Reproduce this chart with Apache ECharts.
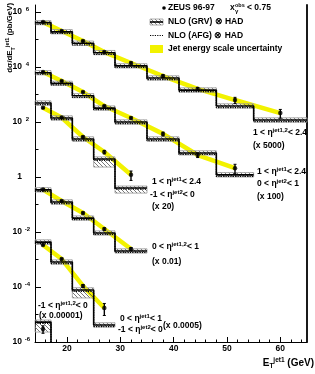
<!DOCTYPE html>
<html><head><meta charset="utf-8">
<script src="https://cdn.jsdelivr.net/npm/echarts@6/dist/echarts.min.js"></script>
<style>html,body{margin:0;padding:0;background:#fff}#c{width:315px;height:374px}</style>
</head><body><div id="c"></div>
<script>
// ---- data ----
const binEdges = [14, 17, 21, 25, 29, 35, 41, 48, 55, 65];
const binCenters = [15.5, 19, 23, 27, 32, 38, 44.5, 51.5, 60];
const xTickLabels = [20, 30, 40, 50, 60];
const xMinorTicks = [16, 18, 22, 24, 26, 28, 32, 34, 36, 38, 42, 44, 46, 48, 52, 54, 56, 58, 62, 64];
const yTickLabels = [1e-6, 1e-4, 1e-2, 1, 100, 1e4, 1e6];
const yTickOddDecades = [1e-5, 1e-3, 1e-1, 10, 1e3, 1e5];

// 1 < eta(jet1,2) < 2.4  (x 5000)
const s5000Data = [4.3e5, 2.05e5, 8.8e4, 3.5e4, 1.4e4, 4.7e3, 1.6e3, 630, 212];
const s5000Err  = [2e4, 1e4, 6e3, 2.5e3, 1.2e3, 500, 220, 160, 75];
const s5000Grv  = [4.1e5, 1.9e5, 7.3e4, 3.3e4, 1.1e4, 4.0e3, 1.45e3, 380, 118];
const s5000Afg  = [3.6e5, 1.67e5, 6.4e4, 2.9e4, 9.7e3, 3.5e3, 1.28e3, 335, 104];
const s5000Hi   = [4.9e5, 2.3e5, 8.8e4, 4.0e4, 1.32e4, 4.8e3, 1.75e3, 460, 142];
const s5000Lo   = [3.45e5, 1.6e5, 6.1e4, 2.8e4, 9.2e3, 3.35e3, 1.22e3, 320, 99];

// 1 < eta(jet1) < 2.4, 0 < eta(jet2) < 1  (x 100)
const s100Data = [6.6e3, 3.1e3, 1.23e3, 380, 140, 37, 6.3, 2.1];
const s100Err  = [300, 150, 70, 25, 12, 6, 1.2, 0.8];
const s100Grv  = [6.2e3, 2.55e3, 900, 320, 100, 24, 7.5, 1.2];
const s100Afg  = [5.5e3, 2.25e3, 790, 282, 88, 21, 6.6, 1.05];
const s100Hi   = [7.4e3, 3.05e3, 1.08e3, 385, 120, 29, 9.0, 1.45];
const s100Lo   = [5.2e3, 2.15e3, 760, 270, 84, 20, 6.3, 1.0];

// 1 < eta(jet1) < 2.4, -1 < eta(jet2) < 0  (x 20)
const s20Data = [330, 145, 28.5, 8.1, 1.2];
const s20Err  = [20, 8, 2.5, 1.2, 0.45];
const s20Grv  = [490, 140, 24, 4.5, 0.4];
const s20Afg  = [430, 123, 21, 4.0, 0.36];
const s20Hi   = [590, 168, 29, 5.4, 0.47];
const s20Lo   = [410, 118, 20, 2.3, 0.26];

// 0 < eta(jet1,2) < 1  (x 0.01)
const s001Data = [0.35, 0.134, 0.049, 0.0129, 0.0024];
const s001Err  = [0.02, 0.008, 0.004, 0.0012, 0.0003];
const s001Grv  = [0.34, 0.123, 0.032, 0.0092, 0.00204];
const s001Afg  = [0.30, 0.108, 0.028, 0.0081, 0.0018];
const s001Hi   = [0.41, 0.148, 0.0385, 0.011, 0.00245];
const s001Lo   = [0.285, 0.103, 0.027, 0.0077, 0.00171];

// 0 < eta(jet1) < 1, -1 < eta(jet2) < 0  (x 0.0005)
const s00005Data = [0.00337, 0.00104, 1.09e-4, 1.72e-5];
const s00005Err  = [2e-4, 7e-5, 1.3e-5, 8e-6];
const s00005Grv  = [0.0043, 8.1e-4, 7.8e-5, 4.15e-6];
const s00005Afg  = [0.0038, 7.1e-4, 6.9e-5, 3.65e-6];
const s00005Hi   = [0.0052, 9.7e-4, 9.4e-5, 5.0e-6];
const s00005Lo   = [0.0036, 6.8e-4, 4.0e-5, 3.5e-6];

// -1 < eta(jet1,2) < 0  (x 0.00001)
const s000001Data = [2.97e-6];
const s000001Err  = [0.9e-6];
const s000001Grv  = [5.3e-6, 4e-7];
const s000001Afg  = [4.7e-6, 3.5e-7];
const s000001Hi   = [6.3e-6];
const s000001Lo   = [2.3e-6];

// ---- rendering ----
const FONT = '"Liberation Sans", Arial, Helvetica, sans-serif';
const groups = [
  {d: s5000Data, e: s5000Err, g: s5000Grv, a: s5000Afg, hi: s5000Hi, lo: s5000Lo},
  {d: s100Data, e: s100Err, g: s100Grv, a: s100Afg, hi: s100Hi, lo: s100Lo},
  {d: s20Data, e: s20Err, g: s20Grv, a: s20Afg, hi: s20Hi, lo: s20Lo},
  {d: s001Data, e: s001Err, g: s001Grv, a: s001Afg, hi: s001Hi, lo: s001Lo},
  {d: s00005Data, e: s00005Err, g: s00005Grv, a: s00005Afg, hi: s00005Hi, lo: s00005Lo},
  {d: s000001Data, e: s000001Err, g: s000001Grv, a: s000001Afg, hi: s000001Hi, lo: s000001Lo}
];

function hatchCanvas() {
  const c = document.createElement('canvas');
  c.width = 4; c.height = 4;
  const x = c.getContext('2d');
  x.strokeStyle = '#555'; x.lineWidth = 0.8;
  x.beginPath();
  x.moveTo(-1, -1); x.lineTo(5, 5);
  x.moveTo(-1, 3); x.lineTo(1, 5);
  x.moveTo(3, -1); x.lineTo(5, 1);
  x.stroke();
  return c;
}
const hatch = {image: hatchCanvas(), repeat: 'repeat'};

function steps(vals) {
  const p = [];
  for (let i = 0; i < vals.length; i++) p.push([binEdges[i], vals[i]]);
  p.push([binEdges[vals.length], vals[vals.length - 1]]);
  return p;
}

const series = [];
groups.forEach((gr) => {
  if (gr.d.length > 1) {
    series.push({type: 'line', data: gr.d.map((v, i) => [binCenters[i], v]), symbol: 'none',
      lineStyle: {color: '#f2f200', width: 4.5}, z: 1, silent: true});
  }
  series.push({type: 'custom', z: 2, silent: true,
    data: gr.hi.map((v, i) => [binEdges[i], binEdges[i + 1], gr.lo[i], v]),
    encode: {x: [0, 1], y: [2, 3]},
    renderItem: (params, api) => {
      const p0 = api.coord([api.value(0), api.value(3)]);
      const p1 = api.coord([api.value(1), api.value(2)]);
      return {type: 'rect', shape: {x: p0[0], y: p0[1], width: p1[0] - p0[0], height: p1[1] - p0[1]},
        style: {fill: hatch, stroke: '#999', lineWidth: 0.8}};
    }});
  series.push({type: 'line', step: 'end', data: steps(gr.a), symbol: 'none', z: 3, silent: true,
    lineStyle: {color: '#000', width: 1.2, type: [1.2, 1.2]}});
  series.push({type: 'line', step: 'end', data: steps(gr.g), symbol: 'none', z: 4, silent: true,
    lineStyle: {color: '#000', width: 1.6}});
  series.push({type: 'custom', z: 5, silent: true,
    data: gr.d.map((v, i) => [binCenters[i], v - gr.e[i], v + gr.e[i]]),
    encode: {x: 0, y: [1, 2]},
    renderItem: (params, api) => {
      const a = api.coord([api.value(0), api.value(1)]);
      const b = api.coord([api.value(0), api.value(2)]);
      return {type: 'group', children: [
        {type: 'line', shape: {x1: a[0], y1: a[1], x2: b[0], y2: b[1]}, style: {stroke: '#000', lineWidth: 1.4}},
        {type: 'line', shape: {x1: a[0] - 1.5, y1: a[1], x2: a[0] + 1.5, y2: a[1]}, style: {stroke: '#000', lineWidth: 1}},
        {type: 'line', shape: {x1: b[0] - 1.5, y1: b[1], x2: b[0] + 1.5, y2: b[1]}, style: {stroke: '#000', lineWidth: 1}}
      ]};
    }});
  series.push({type: 'scatter', data: gr.d.map((v, i) => [binCenters[i], v]), symbol: 'circle',
    symbolSize: 4.5, itemStyle: {color: '#000'}, z: 6, silent: true});
});

const richDef = {
  n: {fontFamily: FONT, fontWeight: 'bold', fontSize: 8.5},
  s: {fontFamily: FONT, fontWeight: 'bold', fontSize: 6, padding: [0, 0, 6, 0], verticalAlign: 'bottom'}
};
function rt(x, y, text) {
  return {type: 'text', x: x, y: y, style: {text: text, rich: richDef, verticalAlign: 'middle', align: 'left', fill: '#000', font: 'bold 8.5px ' + FONT}};
}
function titleRich(fs, ss) {
  return {
    n: {fontFamily: FONT, fontWeight: 'bold', fontSize: fs},
    s: {fontFamily: FONT, fontWeight: 'bold', fontSize: ss, padding: [0, 0, 6, 0], verticalAlign: 'bottom'},
    u: {fontFamily: FONT, fontWeight: 'bold', fontSize: ss, padding: [7, 0, 0, 0], verticalAlign: 'top'}
  };
}

const graphics = [
  // legend
  {type: 'circle', shape: {cx: 164, cy: 8, r: 1.8}, style: {fill: '#000'}},
  rt(168, 8, '{n|ZEUS 96-97}'),
  rt(230, 8, '{n|x}'),
  {type: 'text', x: 235, y: 5, style: {text: 'obs', font: 'bold 5.5px ' + FONT, fill: '#000', verticalAlign: 'middle'}},
  {type: 'text', x: 235, y: 11.5, style: {text: 'γ', font: 'bold 6px ' + FONT, fill: '#000', verticalAlign: 'middle'}},
  rt(247, 8, '{n|< 0.75}'),
  {type: 'rect', shape: {x: 150, y: 19, width: 13, height: 6}, style: {fill: hatch, stroke: '#999', lineWidth: 0.8}},
  {type: 'line', shape: {x1: 150, y1: 22, x2: 163, y2: 22}, style: {stroke: '#000', lineWidth: 1.6}},
  rt(168, 22, '{n|NLO (GRV) ⊗ HAD}'),
  {type: 'line', shape: {x1: 150, y1: 35.5, x2: 163, y2: 35.5}, style: {stroke: '#000', lineWidth: 1.2, lineDash: [1.2, 1.2]}},
  rt(168, 35.5, '{n|NLO (AFG) ⊗ HAD}'),
  {type: 'rect', shape: {x: 150, y: 45, width: 13, height: 8}, style: {fill: '#f2f200'}},
  rt(168, 49, '{n|Jet energy scale uncertainty}'),
  // annotations
  rt(253, 133, '{n|1 < η}{s|jet1,2}{n|< 2.4}'),
  rt(253, 146, '{n|(x 5000)}'),
  rt(257, 172, '{n|1 < η}{s|jet1}{n|< 2.4}'),
  rt(257, 184, '{n|0 < η}{s|jet2}{n|< 1}'),
  rt(257, 197, '{n|(x 100)}'),
  rt(152, 182, '{n|1 < η}{s|jet1}{n|< 2.4}'),
  rt(150, 195, '{n|-1 < η}{s|jet2}{n|< 0}'),
  rt(152, 207, '{n|(x 20)}'),
  rt(152, 247, '{n|0 < η}{s|jet1,2}{n|< 1}'),
  rt(152, 262, '{n|(x 0.01)}'),
  rt(38, 306, '{n|-1 < η}{s|jet1,2}{n|< 0}'),
  rt(39, 316, '{n|(x 0.00001)}'),
  rt(120, 319, '{n|0 < η}{s|jet1}{n|< 1}'),
  rt(118, 330, '{n|-1 < η}{s|jet2}{n|< 0}'),
  rt(163, 326, '{n|(x 0.0005)}'),
  // axis titles
  {type: 'text', x: 10, y: 3, rotation: Math.PI / 2,
    style: {text: '{n|dσ/dE}{u|T}{s|jet1}{n| (pb/GeV)}', rich: titleRich(7.8, 5.5),
      align: 'right', verticalAlign: 'middle', fill: '#000'}},
  {type: 'text', x: 314, y: 363,
    style: {text: '{n|E}{u|T}{s|jet1}{n| (GeV)}', rich: titleRich(10, 6.5),
      align: 'right', verticalAlign: 'middle', fill: '#000'}}
];

const Y_MIN = 1e-6, Y_MAX = 1.8e6;
const chart = echarts.init(document.getElementById('c'), null, {renderer: 'canvas'});
chart.setOption({
  animation: false,
  backgroundColor: '#fff',
  grid: {left: 35, right: 8, top: 5, bottom: 32, containLabel: false},
  xAxis: [{
    type: 'value', min: binEdges[0], max: binEdges[binEdges.length - 1],
    axisLine: {lineStyle: {color: '#000', width: 1}},
    axisTick: {inside: true, length: 5, lineStyle: {color: '#000'}, customValues: xTickLabels},
    splitLine: {show: false},
    axisLabel: {customValues: xTickLabels, margin: 2, fontFamily: FONT, fontWeight: 'bold', fontSize: 8.5, color: '#000'}
  }, {
    type: 'value', min: binEdges[0], max: binEdges[binEdges.length - 1], position: 'bottom',
    axisLine: {show: false},
    axisTick: {inside: true, length: 2.5, lineStyle: {color: '#000'}, customValues: xMinorTicks},
    splitLine: {show: false},
    axisLabel: {show: false}
  }],
  yAxis: [{
    type: 'log', logBase: 10, min: Y_MIN, max: Y_MAX,
    axisLine: {lineStyle: {color: '#000', width: 1}},
    axisTick: {inside: true, length: 6, lineStyle: {color: '#000'}, customValues: yTickLabels},
    splitLine: {show: false},
    axisLabel: {
      customValues: yTickLabels,
      margin: 3,
      formatter: (v) => {
        const r = Math.round(Math.log10(v));
        if (r === 0) return '{b|1}{s| }';
        return '{b|10}{s|' + r + '}';
      },
      rich: {
        b: {fontFamily: FONT, fontWeight: 'bold', fontSize: 8.5, color: '#000'},
        s: {fontFamily: FONT, fontWeight: 'bold', fontSize: 6, color: '#000', width: 9, align: 'left', padding: [0, 0, 6, 1], verticalAlign: 'bottom'}
      }
    }
  }, {
    type: 'log', logBase: 10, min: Y_MIN, max: Y_MAX, position: 'right',
    axisLine: {show: true, lineStyle: {color: '#000', width: 1.8}},
    axisTick: {show: false}, axisLabel: {show: false}, splitLine: {show: false}
  }, {
    type: 'log', logBase: 10, min: Y_MIN, max: Y_MAX, position: 'left',
    axisLine: {show: false},
    axisTick: {inside: true, length: 3.5, lineStyle: {color: '#000'}, customValues: yTickOddDecades},
    axisLabel: {show: false}, splitLine: {show: false}
  }],
  series: series,
  graphic: graphics
});
</script>
</body></html>
